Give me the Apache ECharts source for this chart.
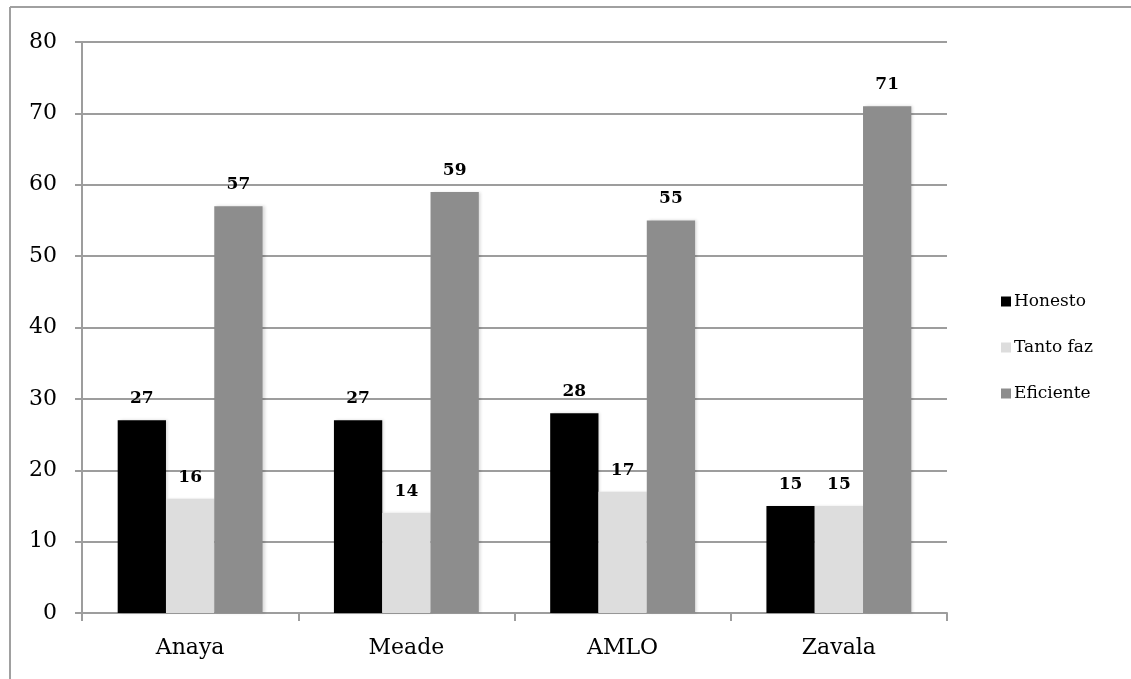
<!DOCTYPE html>
<html>
<head>
<meta charset="utf-8">
<script src="https://cdn.jsdelivr.net/npm/echarts@6/dist/echarts.min.js"></script>
<style>
  html, body { margin: 0; padding: 0; background: #fff; }
  #chart { width: 1131px; height: 679px; }
</style>
</head>
<body>
<div id="chart"></div>
<script>
// Candidates on the category axis
const candidates = ['Anaya', 'Meade', 'AMLO', 'Zavala'];
// Percentages per answer
const honesto = [27, 27, 28, 15];
const tantoFaz = [16, 14, 17, 15];
const eficiente = [57, 59, 55, 71];
// Value axis range
const yMin = 0, yMax = 80, yStep = 10;

const serif = 'DejaVu Serif';
const gridGray = '#9d9d9d';

function barSeries(name, data, color) {
  return {
    name: name,
    type: 'bar',
    data: data,
    barGap: '0%',
    barCategoryGap: '33%',
    itemStyle: {
      color: color,
      shadowColor: 'rgba(0,0,0,0.15)',
      shadowBlur: 3,
      shadowOffsetX: 2,
      shadowOffsetY: 0
    },
    label: {
      show: true,
      position: 'top',
      distance: 13,
      fontFamily: serif,
      fontWeight: 'bold',
      fontSize: 17,
      color: '#000'
    }
  };
}

const chart = echarts.init(document.getElementById('chart'), null, { renderer: 'canvas' });
chart.setOption({
  animation: false,
  backgroundColor: '#fff',
  textStyle: { fontFamily: serif },
  graphic: [
    // outer frame around the chart area
    { type: 'line', shape: { x1: 10, y1: 7, x2: 1131, y2: 7 }, style: { stroke: '#a0a0a0', lineWidth: 2 } },
    { type: 'line', shape: { x1: 10, y1: 7, x2: 10, y2: 679 }, style: { stroke: '#a0a0a0', lineWidth: 2 } }
  ],
  grid: { left: 82, right: 184, top: 42, bottom: 66, containLabel: false },
  legend: {
    orient: 'vertical',
    left: 996,
    top: 288,
    itemWidth: 10,
    itemHeight: 10,
    itemGap: 29,
    icon: 'rect',
    textStyle: { fontFamily: serif, fontSize: 17, color: '#000', padding: [0, 0, 0, -2] },
    data: ['Honesto', 'Tanto faz', 'Eficiente']
  },
  xAxis: {
    type: 'category',
    data: candidates,
    axisLine: { lineStyle: { color: gridGray, width: 2 } },
    axisTick: { show: true, length: 8, lineStyle: { color: gridGray, width: 2 } },
    axisLabel: { fontFamily: serif, fontSize: 22, color: '#000', margin: 24 }
  },
  yAxis: {
    type: 'value',
    min: yMin,
    max: yMax,
    interval: yStep,
    axisLine: { show: true, lineStyle: { color: gridGray, width: 2 } },
    axisTick: { show: true, length: 7, lineStyle: { color: gridGray, width: 2 } },
    splitLine: { show: true, lineStyle: { color: gridGray, width: 2 } },
    axisLabel: { fontFamily: serif, fontSize: 22, color: '#000', margin: 25, verticalAlign: 'middle', padding: [5, 0, 0, 0] }
  },
  series: [
    barSeries('Honesto', honesto, '#000000'),
    barSeries('Tanto faz', tantoFaz, '#dddddd'),
    barSeries('Eficiente', eficiente, '#8d8d8d')
  ]
});
</script>
</body>
</html>
